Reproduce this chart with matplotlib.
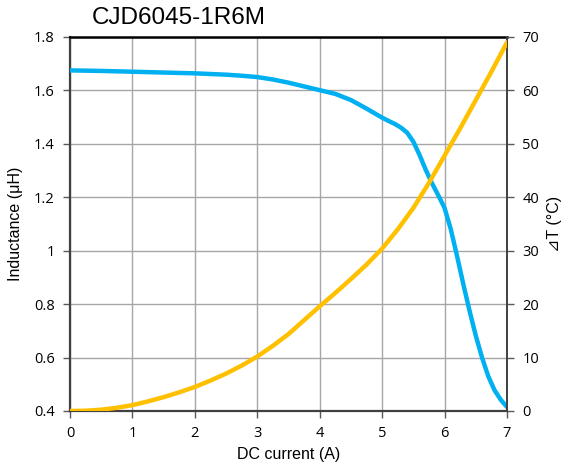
import matplotlib
matplotlib.use("Agg")
import matplotlib.pyplot as plt

# Data
current_L = [0, 0.5, 1, 1.5, 2, 2.5, 2.75, 3, 3.25, 3.5, 3.75, 4, 4.25, 4.5, 4.75,
             5, 5.1, 5.2, 5.3, 5.4, 5.5, 5.6, 5.7, 5.8, 5.9, 6.0, 6.1, 6.2, 6.3,
             6.4, 6.5, 6.6, 6.7, 6.8, 6.9, 7.0]
inductance = [1.675, 1.673, 1.670, 1.667, 1.664, 1.659, 1.655, 1.650, 1.641, 1.629,
              1.615, 1.601, 1.587, 1.564, 1.532, 1.498, 1.486, 1.475, 1.461, 1.442,
              1.408, 1.358, 1.302, 1.252, 1.207, 1.160, 1.080, 0.980, 0.875, 0.775,
              0.682, 0.600, 0.530, 0.478, 0.442, 0.415]

current_T = [0, 0.25, 0.5, 0.75, 1, 1.25, 1.5, 1.75, 2, 2.25, 2.5, 2.75, 3, 3.25,
             3.5, 3.75, 4, 4.25, 4.5, 4.75, 5, 5.25, 5.5, 5.75, 6, 6.25, 6.5, 6.75, 7]
delta_T = [0, 0.05, 0.25, 0.6, 1.1, 1.8, 2.6, 3.5, 4.5, 5.7, 7.0, 8.5, 10.2, 12.2,
           14.4, 17.0, 19.6, 22.1, 24.7, 27.4, 30.4, 34.0, 38.0, 42.7, 47.8, 52.9,
           58.2, 63.5, 69.0]

x_ticks = [0, 1, 2, 3, 4, 5, 6, 7]
yl_ticks = [0.4, 0.6, 0.8, 1.0, 1.2, 1.4, 1.6, 1.8]
yl_labels = ["0.4", "0.6", "0.8", "1", "1.2", "1.4", "1.6", "1.8"]
yr_ticks = [0, 10, 20, 30, 40, 50, 60, 70]

title = "CJD6045-1R6M"
xlabel = "DC current (A)"
ylabel_left = "Inductance (μH)"
ylabel_right = "⊿T (°C)"

BLUE = "#00B0F0"
ORANGE = "#FFC000"
GRID = "#A6A6A6"
TICKFONT = "Open Sans"
LABELFONT = ["Liberation Sans", "DejaVu Sans"]

fig = plt.figure(figsize=(5.71, 4.72), dpi=100)
ax = fig.add_axes([70 / 571, 1 - 411 / 472, (507 - 70) / 571, (411 - 37) / 472])
ax2 = ax.twinx()

ax.set_xlim(0, 7)
ax.set_ylim(0.4, 1.8)
ax2.set_ylim(0, 70)

ax.set_xticks(x_ticks)
ax.set_yticks(yl_ticks)
ax.set_yticklabels(yl_labels)
ax2.set_yticks(yr_ticks)

ax.grid(True, color=GRID, linewidth=1.0)
ax.set_axisbelow(True)

for a in (ax, ax2):
    a.tick_params(direction="out", length=5, width=1, color="#595959",
                  labelsize=10.5, pad=6)
    for lbl in a.get_xticklabels() + a.get_yticklabels():
        lbl.set_fontfamily(TICKFONT)
    for s in a.spines.values():
        s.set_visible(False)

ax.spines["left"].set_visible(True)
ax.spines["left"].set_color("#404040")
ax.spines["left"].set_linewidth(1.6)
ax.spines["bottom"].set_visible(True)
ax.spines["bottom"].set_color("#404040")
ax.spines["bottom"].set_linewidth(1.6)
ax.spines["top"].set_visible(True)
ax.spines["top"].set_color("black")
ax.spines["top"].set_linewidth(1.8)
ax2.spines["right"].set_visible(True)
ax2.spines["right"].set_color("#404040")
ax2.spines["right"].set_linewidth(1.4)

ax.plot(current_L, inductance, color=BLUE, linewidth=3.2,
        solid_capstyle="round", solid_joinstyle="round", zorder=3)
ax2.plot(current_T, delta_T, color=ORANGE, linewidth=3.2,
         solid_capstyle="round", solid_joinstyle="round", zorder=3)

ax.set_xlabel(xlabel, fontsize=11.5, family=LABELFONT, labelpad=4)
ax.set_ylabel(ylabel_left, fontsize=11.5, family=LABELFONT, labelpad=8)
ax2.set_ylabel(ylabel_right, fontsize=11.5, family=LABELFONT, labelpad=6)

fig.text(92 / 571, 1 - 18 / 472, title, fontsize=17.5, family=LABELFONT,
         ha="left", va="center")

fig.savefig("out.png", dpi=100)
